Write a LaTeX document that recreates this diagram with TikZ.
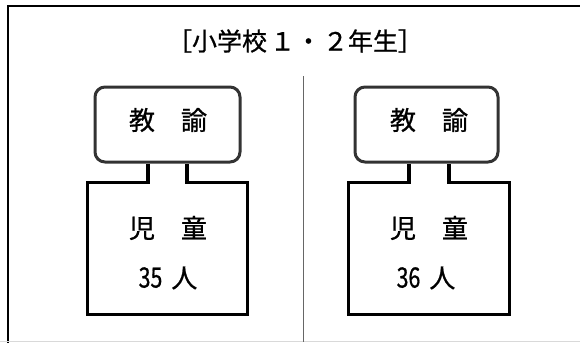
\documentclass[tikz,border=0pt]{standalone}
\usepackage{fontspec}
\setmainfont{Noto Sans CJK JP}
\newfontfamily\gothfont{Noto Sans CJK JP}[FakeBold=0.8]
\usetikzlibrary{calc}
\tikzset{
  frameline/.style={line width=2bp, black},
  divider/.style={line width=1.5bp, black!60},
  teacher/.style={draw=black!80, line width=3bp, rounded corners=10bp, minimum width=145bp, minimum height=75bp, inner sep=0pt},
  kidbox/.style={minimum width=159bp, minimum height=131bp, inner sep=0pt},
  boxline/.style={line width=3.2bp, black, line join=miter},
  tlabel/.style={font=\gothfont\fontsize{26bp}{30bp}\selectfont, inner sep=0pt},
  title/.style={font=\gothfont\fontsize{25bp}{28bp}\selectfont, inner sep=0pt},
}
\begin{document}
\begin{tikzpicture}[x=1bp,y=-1bp]
\useasboundingbox (0,0) rectangle (580,342);
\begin{scope}
\clip (0,0) rectangle (580,342);
\draw[frameline] (8,6) rectangle (600,370);
\draw[black!15, line width=1bp] (0,341.5) -- (580,341.5);
\end{scope}
\node[title] (ttl) at (295,41) {［小学校\hspace{3bp}１\hspace{1bp}・\hspace{2bp}２年生］};
\coordinate (dtop) at (303.7,76);
\coordinate (dbot) at (303.7,342);
\draw[divider] (dtop) -- (dbot);
% left
\node[teacher] (t1) at (167.5,124.5) {};
\node[tlabel] (tl1) at (168,120) {教　諭};
\node[kidbox] (c1) at (167.5,248.5) {};
\coordinate (s1l) at ($(c1.north)+(-19.5,0)$);
\coordinate (s1r) at ($(c1.north)+(19.5,0)$);
\draw[boxline] (t1.south -| s1l) -- (s1l) -- (c1.north west) -- (c1.south west) -- (c1.south east) -- (c1.north east) -- (s1r) -- (t1.south -| s1r);
\node[tlabel] (k1) at (168,228) {児　童};
\node[tlabel] (n1) at (168,278) {\scalebox{0.82}[1.08]{35}\hspace{9bp}人};
% right
\node[teacher, minimum width=143bp] (t2) at (426.5,124.5) {};
\node[tlabel] (tl2) at (429,120) {教　諭};
\node[kidbox, minimum width=160bp] (c2) at (429,248.5) {};
\coordinate (s2l) at ($(c2.north)+(-20,0)$);
\coordinate (s2r) at ($(c2.north)+(20,0)$);
\draw[boxline] (t2.south -| s2l) -- (s2l) -- (c2.north west) -- (c2.south west) -- (c2.south east) -- (c2.north east) -- (s2r) -- (t2.south -| s2r);
\node[tlabel] (k2) at (429,228) {児　童};
\node[tlabel] (n2) at (426,278) {\scalebox{0.82}[1.08]{36}\hspace{9bp}人};
\end{tikzpicture}
\end{document}
